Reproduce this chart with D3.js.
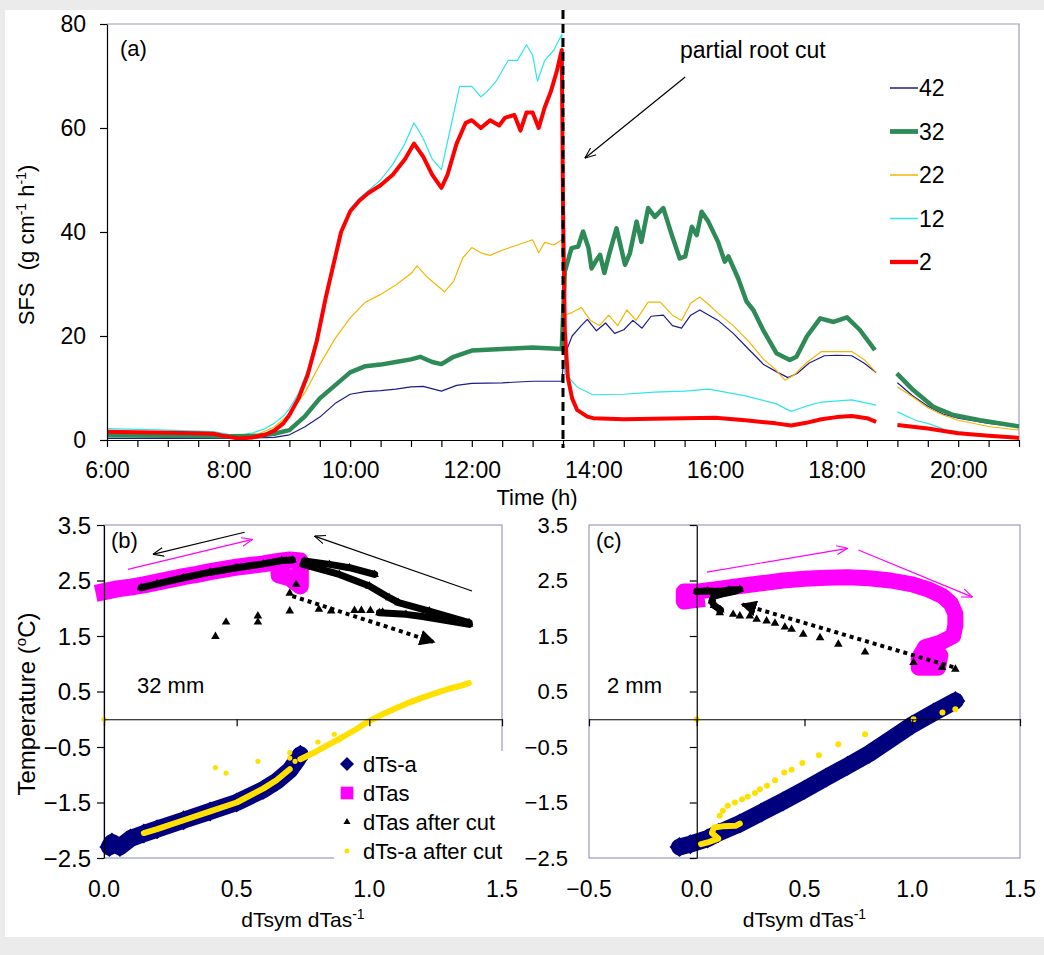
<!DOCTYPE html>
<html>
<head>
<meta charset="utf-8">
<script src="https://cdn.jsdelivr.net/npm/d3@7"></script>
<style>
body { margin: 0; background: #ebebeb; }
svg { display: block; font-family: "Liberation Sans", Arial, sans-serif; }
text { white-space: pre; }
</style>
</head>
<body>
<script>
// ---- panel (a): sap flux, time in decimal hours, null = logger gap
var sfs42 = [[6.0,0.3],[8.0,0.3],[8.75,0.5],[9.0,1.0],[9.25,2.5],[9.5,4.4],[9.75,7.0],[10.0,8.8],[10.25,9.3],[10.5,9.5],[10.75,9.8],[11.0,10.2],[11.2,10.3],[11.5,9.4],[11.75,10.5],[12.0,10.9],[12.5,11.0],[13.0,11.3],[13.48,11.3],[13.5,14.0],[13.55,17.0],[13.65,20.0],[13.8,22.0],[13.9,23.2],[14.05,21.0],[14.2,22.5],[14.35,20.5],[14.5,21.2],[14.65,23.0],[14.8,21.5],[14.95,23.8],[15.15,24.0],[15.3,22.0],[15.45,21.5],[15.6,24.0],[15.75,25.0],[15.9,24.0],[16.05,23.0],[16.3,20.5],[16.55,17.5],[16.8,14.5],[17.0,13.2],[17.2,12.0],[17.35,12.8],[17.55,14.8],[17.8,16.2],[18.0,16.3],[18.25,16.2],[18.45,14.8],[18.65,13.0],null,[19.0,11.0],[19.25,8.5],[19.5,6.5],[19.75,5.0],[20.0,4.2],[20.5,3.2],[21.0,2.5]];
var sfs32 = [[6.0,0.9],[7.0,0.8],[8.0,0.7],[8.5,0.8],[8.75,1.2],[9.0,1.9],[9.25,4.5],[9.5,8.0],[9.75,10.5],[10.0,13.0],[10.25,14.2],[10.5,14.5],[10.75,15.0],[11.0,15.5],[11.15,16.0],[11.35,15.0],[11.5,14.6],[11.7,16.0],[12.0,17.2],[12.5,17.5],[13.0,17.8],[13.48,17.5],[13.53,32.4],[13.64,36.9],[13.75,37.2],[13.83,40.1],[13.92,36.9],[13.97,33.0],[14.05,34.6],[14.11,35.6],[14.18,32.1],[14.27,36.2],[14.38,40.7],[14.52,33.7],[14.6,35.9],[14.71,42.0],[14.79,38.1],[14.9,44.6],[15.01,42.9],[15.15,44.6],[15.29,39.4],[15.42,34.9],[15.51,35.3],[15.62,41.0],[15.7,39.4],[15.78,43.9],[15.89,42.0],[16.05,38.1],[16.16,34.3],[16.22,35.3],[16.38,31.1],[16.52,26.6],[16.63,25.0],[16.79,21.2],[17.01,16.7],[17.23,15.4],[17.34,16.0],[17.51,19.9],[17.73,23.4],[17.95,22.7],[18.17,23.6],[18.38,21.2],[18.63,17.3],null,[18.99,12.8],[19.26,9.6],[19.59,6.4],[19.92,4.8],[20.36,3.8],[21.0,2.6]];
var sfs22 = [[6.0,1.2],[7.0,1.1],[8.0,0.8],[8.5,1.2],[8.75,2.5],[9.0,5.0],[9.25,9.0],[9.5,14.5],[9.75,19.5],[10.0,23.5],[10.25,26.5],[10.5,28.0],[10.75,29.8],[11.0,32.0],[11.1,33.5],[11.25,31.5],[11.4,30.0],[11.55,28.5],[11.7,30.5],[11.85,35.0],[12.0,37.0],[12.15,36.0],[12.3,35.5],[12.5,36.5],[12.75,37.5],[13.0,38.5],[13.1,36.0],[13.2,38.0],[13.35,37.5],[13.48,38.5],[13.5,30.0],[13.52,24.0],[13.65,24.5],[13.8,25.5],[13.95,23.0],[14.1,22.0],[14.25,24.0],[14.4,22.0],[14.55,25.0],[14.7,23.0],[14.9,26.5],[15.1,26.5],[15.3,24.0],[15.45,23.0],[15.6,26.3],[15.75,27.5],[15.9,26.0],[16.05,24.4],[16.3,22.0],[16.55,19.0],[16.8,15.5],[17.0,13.5],[17.15,11.5],[17.3,12.5],[17.5,14.8],[17.75,17.0],[18.0,17.0],[18.25,17.0],[18.45,15.5],[18.65,13.0],null,[19.0,10.2],[19.25,8.3],[19.5,6.2],[19.75,4.8],[20.0,3.8],[20.5,2.6],[21.0,1.9]];
var sfs12 = [[6.0,2.2],[7.0,1.9],[7.75,1.6],[8.0,1.1],[8.17,0.9],[8.4,1.4],[8.6,2.2],[8.75,3.2],[8.9,4.6],[9.0,6.0],[9.15,9.0],[9.3,13.5],[9.45,20.0],[9.6,28.0],[9.75,35.5],[9.85,40.0],[10.0,44.5],[10.15,46.5],[10.3,48.0],[10.5,50.0],[10.7,53.0],[10.9,57.0],[11.05,61.0],[11.2,58.0],[11.35,54.0],[11.5,52.0],[11.65,60.0],[11.8,68.0],[12.0,68.0],[12.15,66.0],[12.25,67.0],[12.4,69.0],[12.5,71.0],[12.6,73.0],[12.75,73.0],[12.9,76.0],[13.0,74.0],[13.08,69.0],[13.2,73.0],[13.35,75.0],[13.48,78.0],[13.5,40.0],[13.53,12.9],[13.73,10.2],[13.99,8.7],[14.5,8.8],[15.0,9.2],[15.5,9.4],[15.9,9.8],[16.5,8.5],[17.0,7.0],[17.25,5.5],[17.5,6.5],[17.75,7.3],[18.25,7.7],[18.65,6.7],null,[19.0,5.4],[19.3,3.8],[19.55,3.0],[19.8,1.9],[20.2,1.3],[20.5,1.0],[21.0,0.6]];
var sfs2 = [[6.0,1.6],[6.5,1.5],[7.0,1.4],[7.5,1.3],[7.75,1.2],[8.0,0.6],[8.17,0.3],[8.4,0.5],[8.6,1.0],[8.75,1.8],[8.9,3.2],[9.0,4.8],[9.15,8.0],[9.3,12.5],[9.45,19.0],[9.6,27.5],[9.75,35.0],[9.85,40.0],[10.0,44.0],[10.15,46.0],[10.3,47.5],[10.5,49.0],[10.7,51.0],[10.9,54.0],[11.05,57.0],[11.2,54.5],[11.35,51.0],[11.5,48.5],[11.6,51.0],[11.75,57.0],[11.9,61.0],[12.0,61.5],[12.15,60.0],[12.3,61.5],[12.45,60.5],[12.55,62.0],[12.7,62.5],[12.8,59.5],[12.9,63.0],[13.0,63.0],[13.1,60.0],[13.2,64.0],[13.3,67.0],[13.4,71.0],[13.48,75.0],[13.5,45.0],[13.53,21.0],[13.58,12.0],[13.65,8.0],[13.73,5.8],[13.9,4.5],[14.0,4.2],[14.5,4.0],[15.0,4.1],[15.5,4.2],[16.0,4.3],[16.5,3.8],[17.0,3.2],[17.25,2.8],[17.5,3.3],[17.75,4.0],[18.0,4.4],[18.25,4.6],[18.5,4.2],[18.65,3.5],null,[19.0,2.9],[19.5,2.2],[20.0,1.3],[20.5,0.8],[21.0,0.4]];
var depthLabels = ['42', '32', '22', '12', '2'];
var timeTicks = d3.range(6, 21.01, 0.5);
var sfsTicks = [0, 20, 40, 60, 80];
var cutTime = 13.5;

// ---- panel (b): 32 mm
var bDTsa = [[0.02,-2.3],[0.03,-2.22],[0.06,-2.3],[0.1,-2.15],[0.15,-2.06],[0.2,-1.98],[0.3,-1.82],[0.4,-1.66],[0.5,-1.5],[0.6,-1.27],[0.65,-1.12],[0.7,-0.92],[0.73,-0.72],[0.74,-0.64]];
var bDTas = [[0.0,2.3],[0.05,2.35],[0.1,2.38],[0.15,2.42],[0.2,2.47],[0.25,2.52],[0.3,2.57],[0.35,2.61],[0.4,2.66],[0.45,2.7],[0.5,2.74],[0.55,2.77],[0.6,2.8],[0.65,2.84],[0.7,2.87],[0.74,2.85],[0.74,2.6],[0.74,2.4],[0.7,2.55],[0.66,2.6],[0.66,2.75]];
var bCutDense = [[[0.14,2.37],[0.2,2.44],[0.3,2.55],[0.4,2.65],[0.5,2.73],[0.6,2.8],[0.67,2.86],[0.71,2.87]],
  [[0.755,2.85],[0.85,2.79],[0.925,2.73],[1.02,2.61]],
  [[0.75,2.79],[0.887,2.61],[1.0,2.4],[1.075,2.19],[1.11,2.1],[1.226,1.95],[1.376,1.74]],
  [[1.038,1.92],[1.138,1.89],[1.2,1.85],[1.263,1.8],[1.376,1.71]]];
var bCutPts = [[0.42,1.49],[0.46,1.75],[0.58,1.86],[0.58,1.75],[0.7,1.95],[0.7,2.27],[0.724,2.43],[0.81,1.98],[0.856,1.95],[0.944,1.96],[0.97,1.96],[1.004,1.96],[1.05,1.93]];
var bYelDense = [[[0.15,-2.05],[0.2,-1.98],[0.3,-1.82],[0.4,-1.66],[0.5,-1.5],[0.6,-1.25],[0.65,-1.1],[0.7,-0.9]],
  [[0.74,-0.72],[0.8,-0.58],[0.85,-0.45],[0.9,-0.32],[0.95,-0.18],[1.0,-0.03],[1.05,0.09],[1.1,0.2],[1.15,0.3],[1.2,0.39],[1.25,0.47],[1.3,0.55],[1.35,0.61],[1.375,0.65]]];
var bYelPts = [[0,0],[0.42,-0.87],[0.46,-0.97],[0.58,-0.76],[0.7,-0.6],[0.7,-0.7],[0.72,-0.76],[0.806,-0.41],[0.868,-0.27]];
var bArrows = [
  {from: [0.53, 3.37], to: [0.184, 2.97], kind: 'black'},
  {from: [0.09, 2.70], to: [0.56, 3.24], kind: 'pink'},
  {from: [1.387, 2.31], to: [0.793, 3.30], kind: 'black'},
  {from: [0.71, 2.22], to: [1.244, 1.39], kind: 'dotted'}
];

// ---- panel (c): 2 mm
var cDTsa = [[-0.08,-2.3],[-0.03,-2.25],[0.05,-2.15],[0.1,-2.05],[0.2,-1.88],[0.3,-1.68],[0.4,-1.48],[0.5,-1.27],[0.6,-1.05],[0.7,-0.84],[0.8,-0.62],[0.9,-0.36],[1.0,-0.1],[1.1,0.12],[1.2,0.33]];
var cDTas = [[0.0,2.15],[-0.06,2.12],[-0.06,2.3],[0.0,2.3],[0.1,2.35],[0.2,2.4],[0.3,2.45],[0.4,2.5],[0.5,2.53],[0.6,2.55],[0.7,2.56],[0.8,2.54],[0.9,2.5],[1.0,2.43],[1.08,2.33],[1.14,2.22],[1.18,2.08],[1.2,1.9],[1.2,1.7],[1.19,1.5],[1.13,1.38],[1.06,1.3],[1.03,1.1],[1.03,0.93],[1.12,0.93],[1.13,1.15],[1.08,1.15]];
var cCutDense = [[[0.0,2.3],[0.05,2.31],[0.1,2.3],[0.15,2.33],[0.2,2.34],[0.17,2.3],[0.12,2.26],[0.08,2.22],[0.07,2.13],[0.08,2.05],[0.11,1.97]]];
var cCutPts = [[0.107,1.92],[0.169,1.89],[0.2,1.86],[0.246,1.86],[0.278,1.8],[0.324,1.77],[0.363,1.73],[0.409,1.66],[0.44,1.62],[0.494,1.53],[0.572,1.47],[0.657,1.35],[0.781,1.21],[1.006,1.02],[1.138,0.93],[1.2,0.9]];
var cYelDense = [[[0.02,-2.25],[0.05,-2.22],[0.1,-2.15],[0.07,-2.05],[0.08,-1.95],[0.12,-1.93],[0.18,-1.92],[0.2,-1.88]]];
var cYelPts = [[0,0],[0.107,-1.74],[0.121,-1.65],[0.144,-1.56],[0.177,-1.5],[0.21,-1.44],[0.237,-1.39],[0.27,-1.33],[0.293,-1.26],[0.326,-1.2],[0.363,-1.1],[0.406,-0.96],[0.44,-0.91],[0.49,-0.79],[0.567,-0.65],[0.657,-0.45],[0.781,-0.27],[1.006,0.0],[1.14,0.12],[1.2,0.18]];
var cArrows = [
  {from: [0.047, 2.65], to: [0.70, 3.08], kind: 'pink'},
  {from: [0.75, 3.05], to: [1.28, 2.2], kind: 'pink'},
  {from: [1.19, 0.94], to: [0.21, 2.07], kind: 'dotted'}
];
var tempTicks = [-2.5, -1.5, -0.5, 0.5, 1.5, 2.5, 3.5];
var bXTicks = [0, 0.5, 1.0, 1.5];
var cXTicks = [-0.5, 0, 0.5, 1.0, 1.5];
var legendB = ['dTs-a', 'dTas', 'dTas after cut', 'dTs-a after cut'];

// ---- styles
var lineColor = {'42': '#1c1c8a', '32': '#2e8b57', '22': '#f2b705', '12': '#2ee6e6', '2': '#ff0000'};
var lineWidth = {'42': 1.2, '32': 4.5, '22': 1.2, '12': 1.2, '2': 4};
var frame = '#9a9ac0';
var navy = '#00007e', pink = '#ff00ff', gold = '#ffe000';

var svg = d3.select('body').append('svg').attr('width', 1044).attr('height', 955);
svg.append('rect').attr('width', 1044).attr('height', 955).attr('fill', '#ebebeb');
svg.append('rect').attr('x', 5).attr('y', 10).attr('width', 1039).attr('height', 927).attr('fill', '#fff');

var defs = svg.append('defs');
var addMarker = function(id, color, filled, size) {
  defs.append('marker').attr('id', id).attr('viewBox', '0 0 10 10')
    .attr('refX', filled ? 9 : 10).attr('refY', 5)
    .attr('markerWidth', size).attr('markerHeight', size)
    .attr('markerUnits', 'userSpaceOnUse').attr('orient', 'auto')
    .append('path')
    .attr('d', filled ? 'M0,0L10,5L0,10Z' : 'M0,1L10,5L0,9')
    .attr('fill', filled ? color : 'none')
    .attr('stroke', filled ? 'none' : color).attr('stroke-width', filled ? 0 : 1);
};
addMarker('hBlack', '#000', false, 11);
addMarker('hPink', pink, false, 11);
addMarker('hDot', '#000', true, 16);

// ================= panel (a)
var xT = d3.scaleLinear().domain([6, 21]).range([107, 1019]);
var yT = d3.scaleLinear().domain([0, 80]).range([440, 24]);

svg.append('path').attr('d', 'M107,24H1019V440').attr('fill', 'none').attr('stroke', frame).attr('stroke-width', 1.2);

var line = d3.line().defined(function(d) { return d; })
  .x(function(d) { return xT(d[0]); }).y(function(d) { return yT(d[1]); });
var seriesData = {'42': sfs42, '32': sfs32, '22': sfs22, '12': sfs12, '2': sfs2};
['42', '22', '12', '32', '2'].forEach(function(k) {
  svg.append('path').datum(seriesData[k]).attr('d', line)
    .attr('fill', 'none').attr('stroke', lineColor[k]).attr('stroke-width', lineWidth[k])
    .attr('stroke-linejoin', 'round');
});

var gx = svg.append('g').attr('transform', 'translate(0,440)')
  .call(d3.axisBottom(xT).tickValues(timeTicks).tickSize(7).tickSizeOuter(0).tickPadding(10)
    .tickFormat(function(d) { return d % 2 === 0 ? d + ':00' : ''; }));
var gy = svg.append('g').attr('transform', 'translate(107,0)')
  .call(d3.axisLeft(yT).tickValues(sfsTicks).tickSize(7).tickSizeOuter(0).tickPadding(14));
[gx, gy].forEach(function(g) {
  g.selectAll('path,line').attr('stroke', '#000').attr('stroke-width', 1.2);
  g.selectAll('text').attr('font-size', 23).attr('fill', '#000').attr('font-family', 'Liberation Sans, Arial, sans-serif');
});
gx.selectAll('text').attr('dy', '0.9em');

// cut line
svg.append('line').attr('x1', xT(cutTime)).attr('x2', xT(cutTime)).attr('y1', 10).attr('y2', 448)
  .attr('stroke', '#000').attr('stroke-width', 3).attr('stroke-dasharray', '9,5');

svg.append('text').attr('x', 120).attr('y', 56).attr('font-size', 22).text('(a)');
svg.append('text').attr('x', 680).attr('y', 58).attr('font-size', 23).text('partial root cut');
svg.append('line').attr('x1', xT(15.51)).attr('y1', yT(69.8)).attr('x2', xT(13.86)).attr('y2', yT(54.2))
  .attr('stroke', '#000').attr('stroke-width', 1.2).attr('marker-end', 'url(#hBlack)');

var legA = svg.append('g').selectAll('g').data(depthLabels).join('g')
  .attr('transform', function(d, i) { return 'translate(890,' + (88 + i * 43.5) + ')'; });
legA.append('line').attr('x1', 0).attr('x2', 28)
  .attr('stroke', function(d) { return lineColor[d]; })
  .attr('stroke-width', function(d) { return lineWidth[d] + 0.3; });
legA.append('text').attr('x', 29).attr('dy', '0.36em').attr('font-size', 23).text(function(d) { return d; });

var ylabA = svg.append('text').attr('transform', 'translate(34,245) rotate(-90)')
  .attr('text-anchor', 'middle').attr('font-size', 22);
ylabA.append('tspan').text('SFS  (g cm');
ylabA.append('tspan').attr('dy', -8).attr('font-size', 14).text('-1');
ylabA.append('tspan').attr('dy', 8).text(' h');
ylabA.append('tspan').attr('dy', -8).attr('font-size', 14).text('-1');
ylabA.append('tspan').attr('dy', 8).text(')');
svg.append('text').attr('x', 537).attr('y', 505).attr('text-anchor', 'middle').attr('font-size', 22).text('Time (h)');

// ================= panels (b) and (c)
var yS = d3.scaleLinear().domain([-2.5, 3.5]).range([858, 525]);
var xB = d3.scaleLinear().domain([0, 1.5]).range([104, 502]);
var xC = d3.scaleLinear().domain([-0.5, 1.5]).range([589, 1020]);

var triangle = d3.symbol().type(d3.symbolTriangle).size(32);
var diamondPath = function(r) { return 'M0,' + (-r) + 'L' + r + ',0L0,' + r + 'L' + (-r) + ',0Z'; };

var drawPanel = function(x, p) {
  var g = svg.append('g');
  var left = x.range()[0], right = x.range()[1];
  g.append('rect').attr('x', left).attr('y', 525).attr('width', right - left).attr('height', 333)
    .attr('fill', 'none').attr('stroke', frame).attr('stroke-width', 1.2);
  var band = d3.line().x(function(d) { return x(d[0]); }).y(function(d) { return yS(d[1]); });
  var addBand = function(pts, color, w, cap) {
    g.append('path').datum(pts).attr('d', band).attr('fill', 'none').attr('stroke', color)
      .attr('stroke-width', w).attr('stroke-linejoin', 'round').attr('stroke-linecap', cap || 'round');
  };
  // dTas (pink squares)
  addBand(p.dtas, pink, p.pinkW, 'square');
  // dTas after cut (black triangles)
  p.cutDense.forEach(function(s) {
    addBand(s, '#000', 7);
    g.selectAll(null).data(s).join('path').attr('d', triangle)
      .attr('transform', function(d) { return 'translate(' + x(d[0]) + ',' + yS(d[1]) + ')'; });
  });
  g.selectAll(null).data(p.cutPts).join('path').attr('d', triangle)
    .attr('transform', function(d) { return 'translate(' + x(d[0]) + ',' + yS(d[1]) + ')'; });
  // dTs-a (navy diamonds)
  addBand(p.dtsa, navy, 17);
  g.selectAll(null).data(p.dtsa).join('path').attr('d', diamondPath(10)).attr('fill', navy)
    .attr('transform', function(d) { return 'translate(' + x(d[0]) + ',' + yS(d[1]) + ')'; });
  // dTs-a after cut (yellow dots)
  p.yelDense.forEach(function(s) { addBand(s, gold, 6); });
  g.selectAll(null).data(p.yelPts).join('circle').attr('r', p.dotR).attr('fill', gold)
    .attr('cx', function(d) { return x(d[0]); }).attr('cy', function(d) { return yS(d[1]); });
  // arrows
  p.arrows.forEach(function(a) {
    var l = g.append('line').attr('x1', x(a.from[0])).attr('y1', yS(a.from[1]))
      .attr('x2', x(a.to[0])).attr('y2', yS(a.to[1]));
    if (a.kind === 'dotted') {
      l.attr('stroke', '#000').attr('stroke-width', 4).attr('stroke-dasharray', '4,4').attr('marker-end', 'url(#hDot)');
    } else {
      l.attr('stroke', a.kind === 'pink' ? pink : '#000').attr('stroke-width', 1.2)
        .attr('marker-end', a.kind === 'pink' ? 'url(#hPink)' : 'url(#hBlack)');
    }
  });
  // axes crossing at zero
  var ax = g.append('g').attr('transform', 'translate(0,' + yS(0) + ')')
    .call(d3.axisBottom(x).tickValues(p.xTicks).tickSize(7).tickSizeOuter(0).tickFormat(''));
  var ay = g.append('g').attr('transform', 'translate(' + x(0) + ',0)')
    .call(d3.axisLeft(yS).tickValues(tempTicks).tickSize(7).tickSizeOuter(0).tickFormat(''));
  [ax, ay].forEach(function(a) { a.selectAll('path,line').attr('stroke', '#000').attr('stroke-width', 1.2); });
  g.selectAll(null).data(p.xTicks).join('text').attr('x', function(d) { return x(d); }).attr('y', 897)
    .attr('text-anchor', 'middle').attr('font-size', 23).text(d3.format('.1f'));
  g.selectAll(null).data(tempTicks).join('text').attr('x', p.yLabX).attr('y', function(d) { return yS(d); })
    .attr('dy', '0.36em').attr('text-anchor', 'end').attr('font-size', p.yLabSize).text(d3.format('.1f'));
  g.append('text').attr('x', left + 7).attr('y', 548).attr('font-size', 22).text(p.tag);
  g.append('text').attr('x', p.depthX).attr('y', 693).attr('font-size', 22).text(p.depth);
  var xl = g.append('text').attr('x', (left + right) / 2).attr('y', 927).attr('text-anchor', 'middle').attr('font-size', 21);
  xl.append('tspan').text('dTsym dTas');
  xl.append('tspan').attr('dy', -8).attr('font-size', 14).text('-1');
  return g;
};

var gB = drawPanel(xB, {dtas: bDTas, cutDense: bCutDense, cutPts: bCutPts, dtsa: bDTsa, yelDense: bYelDense,
  yelPts: bYelPts, arrows: bArrows, xTicks: bXTicks, yLabX: 91, yLabSize: 24, tag: '(b)', depth: '32 mm', depthX: 137,
  pinkW: 17, dotR: 2.6});
drawPanel(xC, {dtas: cDTas, cutDense: cCutDense, cutPts: cCutPts, dtsa: cDTsa, yelDense: cYelDense,
  yelPts: cYelPts, arrows: cArrows, xTicks: cXTicks, yLabX: 568, yLabSize: 22, tag: '(c)', depth: '2 mm', depthX: 607,
  pinkW: 16, dotR: 3});

// legend for (b), white box over the frame
var legB = gB.append('g');
legB.append('rect').attr('x', 334).attr('y', 751).attr('width', 172).attr('height', 112).attr('fill', '#fff');
var legItems = legB.selectAll('g').data(legendB).join('g')
  .attr('transform', function(d, i) { return 'translate(347,' + (764 + i * 29) + ')'; });
legItems.append('path').attr('d', function(d, i) {
  if (i === 0) return diamondPath(7);
  if (i === 1) return d3.symbol().type(d3.symbolSquare).size(160)();
  if (i === 2) return d3.symbol().type(d3.symbolTriangle).size(22)();
  return d3.symbol().type(d3.symbolCircle).size(20)();
}).attr('fill', function(d, i) { return [navy, pink, '#000', gold][i]; });
legItems.append('text').attr('x', 16).attr('dy', '0.36em').attr('font-size', 22).text(function(d) { return d; });

var ylabB = svg.append('text').attr('transform', 'translate(35,704) rotate(-90)')
  .attr('text-anchor', 'middle').attr('font-size', 24);
ylabB.append('tspan').text('Temperature (');
ylabB.append('tspan').attr('dy', -9).attr('font-size', 15).text('o');
ylabB.append('tspan').attr('dy', 9).text('C)');
</script>
</body>
</html>
